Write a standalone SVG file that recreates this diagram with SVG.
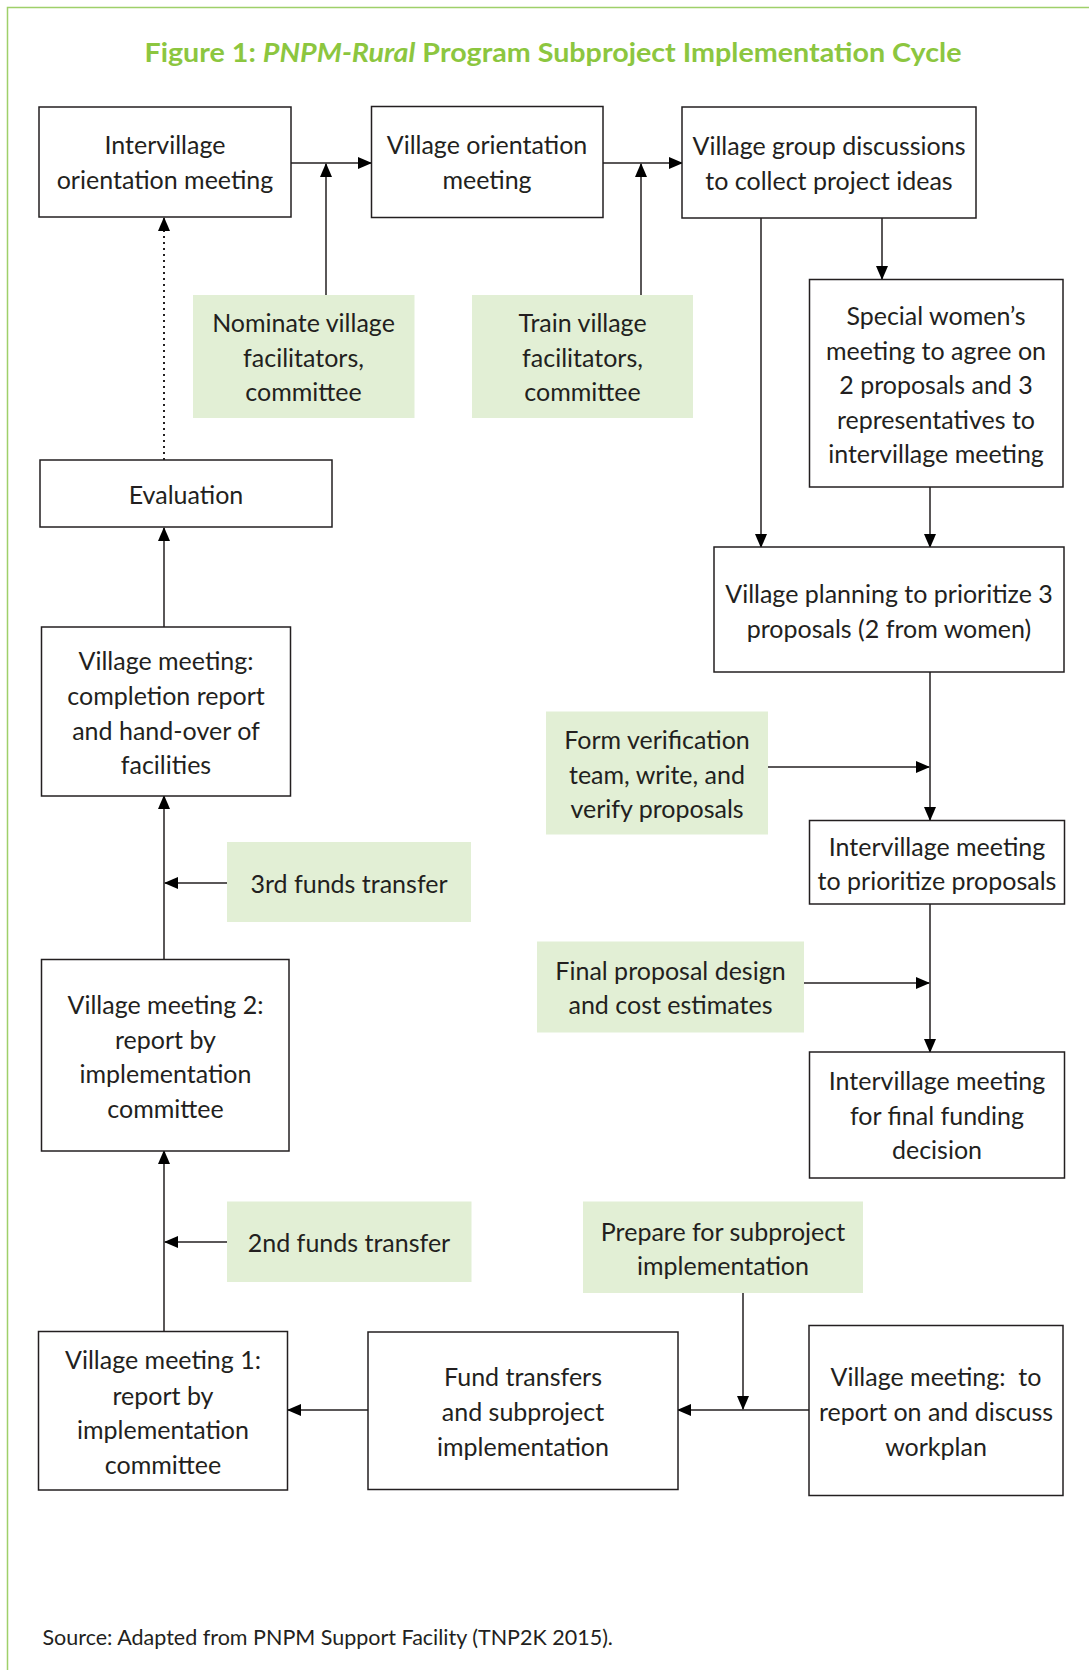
<svg xmlns="http://www.w3.org/2000/svg" width="1089" height="1670" viewBox="0 0 1089 1670">
<defs>
<style>
.box{fill:#ffffff;stroke:#231f20;stroke-width:1.5}
.gbox{fill:#e2efd5;stroke:none}
.t{font-family:Lato,"Open Sans","Liberation Sans",sans-serif;font-size:25px;fill:#231f20;text-anchor:middle}
.c{fill:none;stroke:#231f20;stroke-width:1.5}
.d{fill:none;stroke:#231f20;stroke-width:2;stroke-dasharray:2 4}
.title{font-family:Lato,"Open Sans","Liberation Sans",sans-serif;font-size:27px;font-weight:bold;fill:#8cc63f;text-anchor:middle}
.src{font-family:Lato,"Open Sans","Liberation Sans",sans-serif;font-size:21.5px;fill:#231f20}
</style>
<marker id="ah" markerWidth="14" markerHeight="12" refX="13" refY="6" orient="auto" markerUnits="userSpaceOnUse">
<path d="M0,0 L14,6 L0,12 Z" fill="#000"/>
</marker>
</defs>
<rect width="1089" height="1670" fill="#ffffff"/>
<path d="M7.5,1670 L7.5,7.5 L1089,7.5" fill="none" stroke="#9fd06a" stroke-width="1.5"/>
<text class="title" x="553" y="62" textLength="817" lengthAdjust="spacingAndGlyphs">Figure 1: <tspan font-style="italic">PNPM-Rural</tspan> Program Subproject Implementation Cycle</text>

<g id="connectors">
<line class="c" x1="291" y1="163" x2="371" y2="163" marker-end="url(#ah)"/>
<line class="c" x1="326" y1="295" x2="326" y2="164" marker-end="url(#ah)"/>
<line class="c" x1="603" y1="163" x2="682" y2="163" marker-end="url(#ah)"/>
<line class="c" x1="641" y1="295" x2="641" y2="164" marker-end="url(#ah)"/>
<line class="d" x1="164" y1="460" x2="164" y2="229"/>
<line class="c" x1="164" y1="232" x2="164" y2="218" marker-end="url(#ah)"/>
<line class="c" x1="882" y1="218" x2="882" y2="279" marker-end="url(#ah)"/>
<line class="c" x1="761" y1="218" x2="761" y2="547" marker-end="url(#ah)"/>
<line class="c" x1="930" y1="487" x2="930" y2="547" marker-end="url(#ah)"/>
<line class="c" x1="930" y1="672" x2="930" y2="820" marker-end="url(#ah)"/>
<line class="c" x1="768" y1="767" x2="929" y2="767" marker-end="url(#ah)"/>
<line class="c" x1="930" y1="904" x2="930" y2="1052" marker-end="url(#ah)"/>
<line class="c" x1="804" y1="983" x2="929" y2="983" marker-end="url(#ah)"/>
<line class="c" x1="809" y1="1410" x2="678" y2="1410" marker-end="url(#ah)"/>
<line class="c" x1="743" y1="1293" x2="743" y2="1409" marker-end="url(#ah)"/>
<line class="c" x1="368" y1="1410" x2="288" y2="1410" marker-end="url(#ah)"/>
<line class="c" x1="164" y1="1331" x2="164" y2="1151" marker-end="url(#ah)"/>
<line class="c" x1="227" y1="1242" x2="165" y2="1242" marker-end="url(#ah)"/>
<line class="c" x1="164" y1="959" x2="164" y2="796" marker-end="url(#ah)"/>
<line class="c" x1="227" y1="883" x2="165" y2="883" marker-end="url(#ah)"/>
<line class="c" x1="164" y1="627" x2="164" y2="528" marker-end="url(#ah)"/>
</g>

<g id="n-intervillage-orientation">
<rect class="box" x="39" y="107" width="252" height="110"/>
<text class="t" x="165" y="154">Intervillage</text>
<text class="t" x="165" y="189">orientation meeting</text>
</g>
<g id="n-village-orientation">
<rect class="box" x="371.5" y="106.5" width="231.5" height="111"/>
<text class="t" x="487" y="154">Village orientation</text>
<text class="t" x="487" y="189">meeting</text>
</g>
<g id="n-group-discussions">
<rect class="box" x="682" y="107" width="294" height="111"/>
<text class="t" x="829" y="155">Village group discussions</text>
<text class="t" x="829" y="190">to collect project ideas</text>
</g>
<g id="n-nominate">
<rect class="gbox" x="193" y="295" width="221.5" height="123"/>
<text class="t" x="303.5" y="332">Nominate village</text>
<text class="t" x="303.5" y="367">facilitators,</text>
<text class="t" x="303.5" y="401">committee</text>
</g>
<g id="n-train">
<rect class="gbox" x="472" y="295" width="221" height="123"/>
<text class="t" x="582.5" y="332">Train village</text>
<text class="t" x="582.5" y="367">facilitators,</text>
<text class="t" x="582.5" y="401">committee</text>
</g>
<g id="n-special-women">
<rect class="box" x="809.5" y="279.5" width="253.5" height="207.5"/>
<text class="t" x="936" y="325">Special women’s</text>
<text class="t" x="936" y="359.5">meeting to agree on</text>
<text class="t" x="936" y="394">2 proposals and 3</text>
<text class="t" x="936" y="428.5">representatives to</text>
<text class="t" x="936" y="463">intervillage meeting</text>
</g>
<g id="n-evaluation">
<rect class="box" x="40" y="460" width="292" height="67"/>
<text class="t" x="186" y="504">Evaluation</text>
</g>
<g id="n-village-planning">
<rect class="box" x="714" y="547" width="350" height="125"/>
<text class="t" x="889" y="602.5">Village planning to prioritize 3</text>
<text class="t" x="889" y="637.5">proposals (2 from women)</text>
</g>
<g id="n-completion">
<rect class="box" x="41.5" y="627" width="249" height="169"/>
<text class="t" x="166" y="670">Village meeting:</text>
<text class="t" x="166" y="705">completion report</text>
<text class="t" x="166" y="740">and hand-over of</text>
<text class="t" x="166" y="774">facilities</text>
</g>
<g id="n-form-verification">
<rect class="gbox" x="546" y="711.5" width="222" height="123"/>
<text class="t" x="657" y="749">Form verification</text>
<text class="t" x="657" y="784">team, write, and</text>
<text class="t" x="657" y="818">verify proposals</text>
</g>
<g id="n-prioritize">
<rect class="box" x="809.5" y="820.5" width="255" height="83.5"/>
<text class="t" x="937" y="855.5">Intervillage meeting</text>
<text class="t" x="937" y="890">to prioritize proposals</text>
</g>
<g id="n-3rd-funds">
<rect class="gbox" x="227" y="842" width="244" height="80"/>
<text class="t" x="349" y="893">3rd funds transfer</text>
</g>
<g id="n-final-proposal">
<rect class="gbox" x="537" y="941.5" width="267" height="91"/>
<text class="t" x="670.5" y="980">Final proposal design</text>
<text class="t" x="670.5" y="1014">and cost estimates</text>
</g>
<g id="n-vm2">
<rect class="box" x="41.5" y="959.5" width="247.5" height="191.5"/>
<text class="t" x="165.5" y="1014">Village meeting 2:</text>
<text class="t" x="165.5" y="1049">report by</text>
<text class="t" x="165.5" y="1083">implementation</text>
<text class="t" x="165.5" y="1118">committee</text>
</g>
<g id="n-final-funding">
<rect class="box" x="809.5" y="1052" width="255" height="126"/>
<text class="t" x="937" y="1090">Intervillage meeting</text>
<text class="t" x="937" y="1125">for final funding</text>
<text class="t" x="937" y="1159">decision</text>
</g>
<g id="n-2nd-funds">
<rect class="gbox" x="227" y="1201.5" width="244.5" height="80.5"/>
<text class="t" x="349" y="1252">2nd funds transfer</text>
</g>
<g id="n-prepare">
<rect class="gbox" x="583" y="1201.5" width="280" height="91.5"/>
<text class="t" x="723" y="1241">Prepare for subproject</text>
<text class="t" x="723" y="1275">implementation</text>
</g>
<g id="n-vm1">
<rect class="box" x="38.5" y="1331.5" width="249" height="158.5"/>
<text class="t" x="163" y="1369">Village meeting 1:</text>
<text class="t" x="163" y="1405">report by</text>
<text class="t" x="163" y="1439">implementation</text>
<text class="t" x="163" y="1474">committee</text>
</g>
<g id="n-fund-transfers">
<rect class="box" x="368" y="1332" width="310" height="157.5"/>
<text class="t" x="523" y="1386">Fund transfers</text>
<text class="t" x="523" y="1421">and subproject</text>
<text class="t" x="523" y="1456">implementation</text>
</g>
<g id="n-vm-workplan">
<rect class="box" x="809" y="1325.5" width="254" height="170"/>
<text class="t" x="936" y="1386" xml:space="preserve">Village meeting:  to</text>
<text class="t" x="936" y="1421">report on and discuss</text>
<text class="t" x="936" y="1456">workplan</text>
</g>
<text class="src" x="42.5" y="1645">Source: Adapted from PNPM Support Facility (TNP2K 2015).</text>
</svg>
